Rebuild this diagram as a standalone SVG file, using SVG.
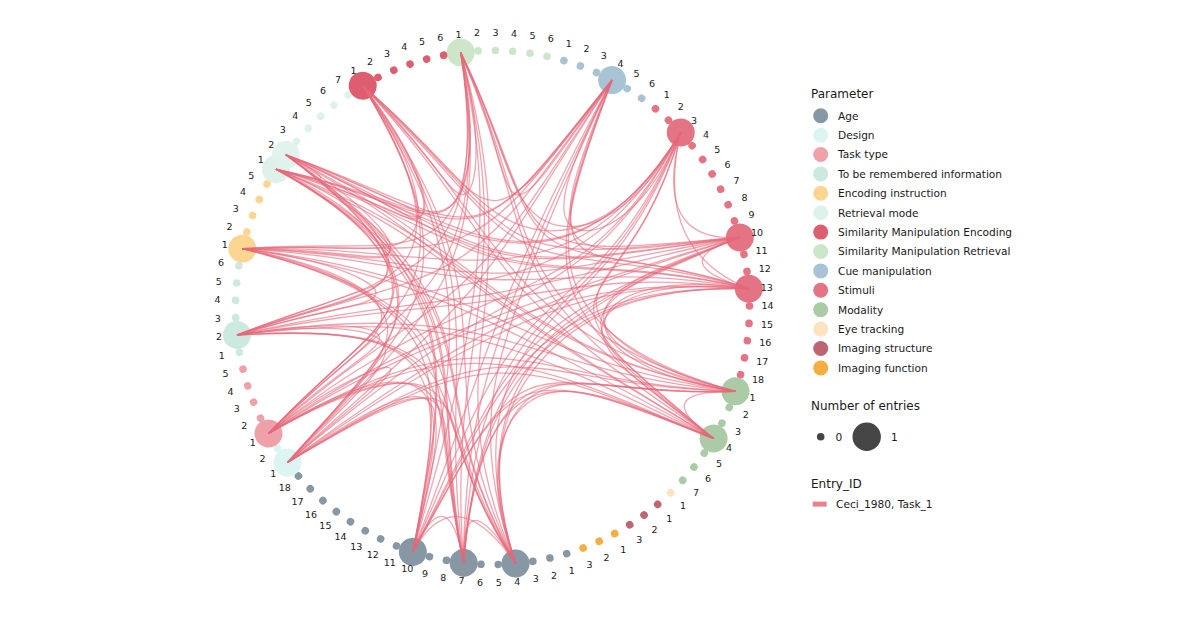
<svg xmlns="http://www.w3.org/2000/svg" width="1200" height="619" viewBox="0 0 1200 619">
<style>
.n text{font-family:"DejaVu Sans",Verdana,sans-serif;font-size:9.5px;fill:#1a1a1a;text-anchor:middle}
.lg text{font-family:"DejaVu Sans",Verdana,sans-serif;font-size:10.6px;fill:#1a1a1a}
.lg text.ttl{font-size:12px}
#connectors path{fill:none;stroke:#e6697b;stroke-opacity:.6;stroke-width:1.3}
.age{fill:#8797a3}.des{fill:#dcf4f2}.tt{fill:#efa1aa}.tbr{fill:#cce9df}.enc{fill:#fcd592}.ret{fill:#dff2ea}
.sme{fill:#dc5e6f}.smr{fill:#cde6ca}.cue{fill:#a8c3d3}.sti{fill:#e47383}.mod{fill:#abcaa6}.eye{fill:#fde3c0}
.ims{fill:#bd6570}.imf{fill:#f6ad43}.sz{fill:#454545}
</style>
<rect width="1200" height="619" fill="#ffffff"/>
<g id="nodes" class="n">
<g id="node-smr-1" transform="rotate(-7.1 492.5 307.5)"><circle class="smr" cx="492.5" cy="50.5" r="14"/><text x="492.5" y="35.9" transform="rotate(7.1 492.5 32.5)">1</text></g>
<g id="node-smr-2" transform="rotate(-3.23 492.5 307.5)"><circle class="smr" cx="492.5" cy="50.5" r="3.8"/><text x="492.5" y="35.9" transform="rotate(3.23 492.5 32.5)">2</text></g>
<g id="node-smr-3" transform="rotate(0.64 492.5 307.5)"><circle class="smr" cx="492.5" cy="50.5" r="3.8"/><text x="492.5" y="35.9" transform="rotate(-0.64 492.5 32.5)">3</text></g>
<g id="node-smr-4" transform="rotate(4.51 492.5 307.5)"><circle class="smr" cx="492.5" cy="50.5" r="3.8"/><text x="492.5" y="35.9" transform="rotate(-4.51 492.5 32.5)">4</text></g>
<g id="node-smr-5" transform="rotate(8.38 492.5 307.5)"><circle class="smr" cx="492.5" cy="50.5" r="3.8"/><text x="492.5" y="35.9" transform="rotate(-8.38 492.5 32.5)">5</text></g>
<g id="node-smr-6" transform="rotate(12.25 492.5 307.5)"><circle class="smr" cx="492.5" cy="50.5" r="3.8"/><text x="492.5" y="35.9" transform="rotate(-12.25 492.5 32.5)">6</text></g>
<g id="node-cue-1" transform="rotate(16.13 492.5 307.5)"><circle class="cue" cx="492.5" cy="50.5" r="3.8"/><text x="492.5" y="35.9" transform="rotate(-16.13 492.5 32.5)">1</text></g>
<g id="node-cue-2" transform="rotate(20 492.5 307.5)"><circle class="cue" cx="492.5" cy="50.5" r="3.8"/><text x="492.5" y="35.9" transform="rotate(-20 492.5 32.5)">2</text></g>
<g id="node-cue-3" transform="rotate(23.87 492.5 307.5)"><circle class="cue" cx="492.5" cy="50.5" r="3.8"/><text x="492.5" y="35.9" transform="rotate(-23.87 492.5 32.5)">3</text></g>
<g id="node-cue-4" transform="rotate(27.74 492.5 307.5)"><circle class="cue" cx="492.5" cy="50.5" r="14"/><text x="492.5" y="35.9" transform="rotate(-27.74 492.5 32.5)">4</text></g>
<g id="node-cue-5" transform="rotate(31.61 492.5 307.5)"><circle class="cue" cx="492.5" cy="50.5" r="3.8"/><text x="492.5" y="35.9" transform="rotate(-31.61 492.5 32.5)">5</text></g>
<g id="node-cue-6" transform="rotate(35.48 492.5 307.5)"><circle class="cue" cx="492.5" cy="50.5" r="3.8"/><text x="492.5" y="35.9" transform="rotate(-35.48 492.5 32.5)">6</text></g>
<g id="node-sti-1" transform="rotate(39.35 492.5 307.5)"><circle class="sti" cx="492.5" cy="50.5" r="3.8"/><text x="492.5" y="35.9" transform="rotate(-39.35 492.5 32.5)">1</text></g>
<g id="node-sti-2" transform="rotate(43.22 492.5 307.5)"><circle class="sti" cx="492.5" cy="50.5" r="3.8"/><text x="492.5" y="35.9" transform="rotate(-43.22 492.5 32.5)">2</text></g>
<g id="node-sti-3" transform="rotate(47.09 492.5 307.5)"><circle class="sti" cx="492.5" cy="50.5" r="14"/><text x="492.5" y="35.9" transform="rotate(-47.09 492.5 32.5)">3</text></g>
<g id="node-sti-4" transform="rotate(50.97 492.5 307.5)"><circle class="sti" cx="492.5" cy="50.5" r="3.8"/><text x="492.5" y="35.9" transform="rotate(-50.97 492.5 32.5)">4</text></g>
<g id="node-sti-5" transform="rotate(54.84 492.5 307.5)"><circle class="sti" cx="492.5" cy="50.5" r="3.8"/><text x="492.5" y="35.9" transform="rotate(-54.84 492.5 32.5)">5</text></g>
<g id="node-sti-6" transform="rotate(58.71 492.5 307.5)"><circle class="sti" cx="492.5" cy="50.5" r="3.8"/><text x="492.5" y="35.9" transform="rotate(-58.71 492.5 32.5)">6</text></g>
<g id="node-sti-7" transform="rotate(62.58 492.5 307.5)"><circle class="sti" cx="492.5" cy="50.5" r="3.8"/><text x="492.5" y="35.9" transform="rotate(-62.58 492.5 32.5)">7</text></g>
<g id="node-sti-8" transform="rotate(66.45 492.5 307.5)"><circle class="sti" cx="492.5" cy="50.5" r="3.8"/><text x="492.5" y="35.9" transform="rotate(-66.45 492.5 32.5)">8</text></g>
<g id="node-sti-9" transform="rotate(70.32 492.5 307.5)"><circle class="sti" cx="492.5" cy="50.5" r="3.8"/><text x="492.5" y="35.9" transform="rotate(-70.32 492.5 32.5)">9</text></g>
<g id="node-sti-10" transform="rotate(74.19 492.5 307.5)"><circle class="sti" cx="492.5" cy="50.5" r="14"/><text x="492.5" y="35.9" transform="rotate(-74.19 492.5 32.5)">10</text></g>
<g id="node-sti-11" transform="rotate(78.06 492.5 307.5)"><circle class="sti" cx="492.5" cy="50.5" r="3.8"/><text x="492.5" y="35.9" transform="rotate(-78.06 492.5 32.5)">11</text></g>
<g id="node-sti-12" transform="rotate(81.93 492.5 307.5)"><circle class="sti" cx="492.5" cy="50.5" r="3.8"/><text x="492.5" y="35.9" transform="rotate(-81.93 492.5 32.5)">12</text></g>
<g id="node-sti-13" transform="rotate(85.8 492.5 307.5)"><circle class="sti" cx="492.5" cy="50.5" r="14"/><text x="492.5" y="35.9" transform="rotate(-85.8 492.5 32.5)">13</text></g>
<g id="node-sti-14" transform="rotate(89.67 492.5 307.5)"><circle class="sti" cx="492.5" cy="50.5" r="3.8"/><text x="492.5" y="35.9" transform="rotate(-89.67 492.5 32.5)">14</text></g>
<g id="node-sti-15" transform="rotate(93.55 492.5 307.5)"><circle class="sti" cx="492.5" cy="50.5" r="3.8"/><text x="492.5" y="35.9" transform="rotate(-93.55 492.5 32.5)">15</text></g>
<g id="node-sti-16" transform="rotate(97.42 492.5 307.5)"><circle class="sti" cx="492.5" cy="50.5" r="3.8"/><text x="492.5" y="35.9" transform="rotate(-97.42 492.5 32.5)">16</text></g>
<g id="node-sti-17" transform="rotate(101.29 492.5 307.5)"><circle class="sti" cx="492.5" cy="50.5" r="3.8"/><text x="492.5" y="35.9" transform="rotate(-101.29 492.5 32.5)">17</text></g>
<g id="node-sti-18" transform="rotate(105.16 492.5 307.5)"><circle class="sti" cx="492.5" cy="50.5" r="3.8"/><text x="492.5" y="35.9" transform="rotate(-105.16 492.5 32.5)">18</text></g>
<g id="node-mod-1" transform="rotate(109.03 492.5 307.5)"><circle class="mod" cx="492.5" cy="50.5" r="14"/><text x="492.5" y="35.9" transform="rotate(-109.03 492.5 32.5)">1</text></g>
<g id="node-mod-2" transform="rotate(112.9 492.5 307.5)"><circle class="mod" cx="492.5" cy="50.5" r="3.8"/><text x="492.5" y="35.9" transform="rotate(-112.9 492.5 32.5)">2</text></g>
<g id="node-mod-3" transform="rotate(116.77 492.5 307.5)"><circle class="mod" cx="492.5" cy="50.5" r="3.8"/><text x="492.5" y="35.9" transform="rotate(-116.77 492.5 32.5)">3</text></g>
<g id="node-mod-4" transform="rotate(120.64 492.5 307.5)"><circle class="mod" cx="492.5" cy="50.5" r="14"/><text x="492.5" y="35.9" transform="rotate(-120.64 492.5 32.5)">4</text></g>
<g id="node-mod-5" transform="rotate(124.51 492.5 307.5)"><circle class="mod" cx="492.5" cy="50.5" r="3.8"/><text x="492.5" y="35.9" transform="rotate(-124.51 492.5 32.5)">5</text></g>
<g id="node-mod-6" transform="rotate(128.38 492.5 307.5)"><circle class="mod" cx="492.5" cy="50.5" r="3.8"/><text x="492.5" y="35.9" transform="rotate(-128.38 492.5 32.5)">6</text></g>
<g id="node-mod-7" transform="rotate(132.26 492.5 307.5)"><circle class="mod" cx="492.5" cy="50.5" r="3.8"/><text x="492.5" y="35.9" transform="rotate(-132.26 492.5 32.5)">7</text></g>
<g id="node-eye-1" transform="rotate(136.13 492.5 307.5)"><circle class="eye" cx="492.5" cy="50.5" r="3.8"/><text x="492.5" y="35.9" transform="rotate(-136.13 492.5 32.5)">1</text></g>
<g id="node-ims-1" transform="rotate(140 492.5 307.5)"><circle class="ims" cx="492.5" cy="50.5" r="3.8"/><text x="492.5" y="35.9" transform="rotate(-140 492.5 32.5)">1</text></g>
<g id="node-ims-2" transform="rotate(143.87 492.5 307.5)"><circle class="ims" cx="492.5" cy="50.5" r="3.8"/><text x="492.5" y="35.9" transform="rotate(-143.87 492.5 32.5)">2</text></g>
<g id="node-ims-3" transform="rotate(147.74 492.5 307.5)"><circle class="ims" cx="492.5" cy="50.5" r="3.8"/><text x="492.5" y="35.9" transform="rotate(-147.74 492.5 32.5)">3</text></g>
<g id="node-imf-1" transform="rotate(151.61 492.5 307.5)"><circle class="imf" cx="492.5" cy="50.5" r="3.8"/><text x="492.5" y="35.9" transform="rotate(-151.61 492.5 32.5)">1</text></g>
<g id="node-imf-2" transform="rotate(155.48 492.5 307.5)"><circle class="imf" cx="492.5" cy="50.5" r="3.8"/><text x="492.5" y="35.9" transform="rotate(-155.48 492.5 32.5)">2</text></g>
<g id="node-imf-3" transform="rotate(159.35 492.5 307.5)"><circle class="imf" cx="492.5" cy="50.5" r="3.8"/><text x="492.5" y="35.9" transform="rotate(-159.35 492.5 32.5)">3</text></g>
<g id="node-age-1" transform="rotate(163.22 492.5 307.5)"><circle class="age" cx="492.5" cy="50.5" r="3.8"/><text x="492.5" y="35.9" transform="rotate(-163.22 492.5 32.5)">1</text></g>
<g id="node-age-2" transform="rotate(167.09 492.5 307.5)"><circle class="age" cx="492.5" cy="50.5" r="3.8"/><text x="492.5" y="35.9" transform="rotate(-167.09 492.5 32.5)">2</text></g>
<g id="node-age-3" transform="rotate(170.97 492.5 307.5)"><circle class="age" cx="492.5" cy="50.5" r="3.8"/><text x="492.5" y="35.9" transform="rotate(-170.97 492.5 32.5)">3</text></g>
<g id="node-age-4" transform="rotate(174.84 492.5 307.5)"><circle class="age" cx="492.5" cy="50.5" r="14"/><text x="492.5" y="35.9" transform="rotate(-174.84 492.5 32.5)">4</text></g>
<g id="node-age-5" transform="rotate(178.71 492.5 307.5)"><circle class="age" cx="492.5" cy="50.5" r="3.8"/><text x="492.5" y="35.9" transform="rotate(-178.71 492.5 32.5)">5</text></g>
<g id="node-age-6" transform="rotate(182.58 492.5 307.5)"><circle class="age" cx="492.5" cy="50.5" r="3.8"/><text x="492.5" y="35.9" transform="rotate(-182.58 492.5 32.5)">6</text></g>
<g id="node-age-7" transform="rotate(186.45 492.5 307.5)"><circle class="age" cx="492.5" cy="50.5" r="14"/><text x="492.5" y="35.9" transform="rotate(-186.45 492.5 32.5)">7</text></g>
<g id="node-age-8" transform="rotate(190.32 492.5 307.5)"><circle class="age" cx="492.5" cy="50.5" r="3.8"/><text x="492.5" y="35.9" transform="rotate(-190.32 492.5 32.5)">8</text></g>
<g id="node-age-9" transform="rotate(194.19 492.5 307.5)"><circle class="age" cx="492.5" cy="50.5" r="3.8"/><text x="492.5" y="35.9" transform="rotate(-194.19 492.5 32.5)">9</text></g>
<g id="node-age-10" transform="rotate(198.06 492.5 307.5)"><circle class="age" cx="492.5" cy="50.5" r="14"/><text x="492.5" y="35.9" transform="rotate(-198.06 492.5 32.5)">10</text></g>
<g id="node-age-11" transform="rotate(201.93 492.5 307.5)"><circle class="age" cx="492.5" cy="50.5" r="3.8"/><text x="492.5" y="35.9" transform="rotate(-201.93 492.5 32.5)">11</text></g>
<g id="node-age-12" transform="rotate(205.8 492.5 307.5)"><circle class="age" cx="492.5" cy="50.5" r="3.8"/><text x="492.5" y="35.9" transform="rotate(-205.8 492.5 32.5)">12</text></g>
<g id="node-age-13" transform="rotate(209.67 492.5 307.5)"><circle class="age" cx="492.5" cy="50.5" r="3.8"/><text x="492.5" y="35.9" transform="rotate(-209.67 492.5 32.5)">13</text></g>
<g id="node-age-14" transform="rotate(213.55 492.5 307.5)"><circle class="age" cx="492.5" cy="50.5" r="3.8"/><text x="492.5" y="35.9" transform="rotate(-213.55 492.5 32.5)">14</text></g>
<g id="node-age-15" transform="rotate(217.42 492.5 307.5)"><circle class="age" cx="492.5" cy="50.5" r="3.8"/><text x="492.5" y="35.9" transform="rotate(-217.42 492.5 32.5)">15</text></g>
<g id="node-age-16" transform="rotate(221.29 492.5 307.5)"><circle class="age" cx="492.5" cy="50.5" r="3.8"/><text x="492.5" y="35.9" transform="rotate(-221.29 492.5 32.5)">16</text></g>
<g id="node-age-17" transform="rotate(225.16 492.5 307.5)"><circle class="age" cx="492.5" cy="50.5" r="3.8"/><text x="492.5" y="35.9" transform="rotate(-225.16 492.5 32.5)">17</text></g>
<g id="node-age-18" transform="rotate(229.03 492.5 307.5)"><circle class="age" cx="492.5" cy="50.5" r="3.8"/><text x="492.5" y="35.9" transform="rotate(-229.03 492.5 32.5)">18</text></g>
<g id="node-des-1" transform="rotate(232.9 492.5 307.5)"><circle class="des" cx="492.5" cy="50.5" r="14"/><text x="492.5" y="35.9" transform="rotate(-232.9 492.5 32.5)">1</text></g>
<g id="node-des-2" transform="rotate(236.77 492.5 307.5)"><circle class="des" cx="492.5" cy="50.5" r="3.8"/><text x="492.5" y="35.9" transform="rotate(-236.77 492.5 32.5)">2</text></g>
<g id="node-tt-1" transform="rotate(240.64 492.5 307.5)"><circle class="tt" cx="492.5" cy="50.5" r="14"/><text x="492.5" y="35.9" transform="rotate(-240.64 492.5 32.5)">1</text></g>
<g id="node-tt-2" transform="rotate(244.51 492.5 307.5)"><circle class="tt" cx="492.5" cy="50.5" r="3.8"/><text x="492.5" y="35.9" transform="rotate(-244.51 492.5 32.5)">2</text></g>
<g id="node-tt-3" transform="rotate(248.38 492.5 307.5)"><circle class="tt" cx="492.5" cy="50.5" r="3.8"/><text x="492.5" y="35.9" transform="rotate(-248.38 492.5 32.5)">3</text></g>
<g id="node-tt-4" transform="rotate(252.26 492.5 307.5)"><circle class="tt" cx="492.5" cy="50.5" r="3.8"/><text x="492.5" y="35.9" transform="rotate(-252.26 492.5 32.5)">4</text></g>
<g id="node-tt-5" transform="rotate(256.13 492.5 307.5)"><circle class="tt" cx="492.5" cy="50.5" r="3.8"/><text x="492.5" y="35.9" transform="rotate(-256.13 492.5 32.5)">5</text></g>
<g id="node-tbr-1" transform="rotate(260 492.5 307.5)"><circle class="tbr" cx="492.5" cy="50.5" r="3.8"/><text x="492.5" y="35.9" transform="rotate(-260 492.5 32.5)">1</text></g>
<g id="node-tbr-2" transform="rotate(263.87 492.5 307.5)"><circle class="tbr" cx="492.5" cy="50.5" r="14"/><text x="492.5" y="35.9" transform="rotate(-263.87 492.5 32.5)">2</text></g>
<g id="node-tbr-3" transform="rotate(267.74 492.5 307.5)"><circle class="tbr" cx="492.5" cy="50.5" r="3.8"/><text x="492.5" y="35.9" transform="rotate(-267.74 492.5 32.5)">3</text></g>
<g id="node-tbr-4" transform="rotate(271.61 492.5 307.5)"><circle class="tbr" cx="492.5" cy="50.5" r="3.8"/><text x="492.5" y="35.9" transform="rotate(-271.61 492.5 32.5)">4</text></g>
<g id="node-tbr-5" transform="rotate(275.48 492.5 307.5)"><circle class="tbr" cx="492.5" cy="50.5" r="3.8"/><text x="492.5" y="35.9" transform="rotate(-275.48 492.5 32.5)">5</text></g>
<g id="node-tbr-6" transform="rotate(279.35 492.5 307.5)"><circle class="tbr" cx="492.5" cy="50.5" r="3.8"/><text x="492.5" y="35.9" transform="rotate(-279.35 492.5 32.5)">6</text></g>
<g id="node-enc-1" transform="rotate(283.22 492.5 307.5)"><circle class="enc" cx="492.5" cy="50.5" r="14"/><text x="492.5" y="35.9" transform="rotate(-283.22 492.5 32.5)">1</text></g>
<g id="node-enc-2" transform="rotate(287.09 492.5 307.5)"><circle class="enc" cx="492.5" cy="50.5" r="3.8"/><text x="492.5" y="35.9" transform="rotate(-287.09 492.5 32.5)">2</text></g>
<g id="node-enc-3" transform="rotate(290.97 492.5 307.5)"><circle class="enc" cx="492.5" cy="50.5" r="3.8"/><text x="492.5" y="35.9" transform="rotate(-290.97 492.5 32.5)">3</text></g>
<g id="node-enc-4" transform="rotate(294.84 492.5 307.5)"><circle class="enc" cx="492.5" cy="50.5" r="3.8"/><text x="492.5" y="35.9" transform="rotate(-294.84 492.5 32.5)">4</text></g>
<g id="node-enc-5" transform="rotate(298.71 492.5 307.5)"><circle class="enc" cx="492.5" cy="50.5" r="3.8"/><text x="492.5" y="35.9" transform="rotate(-298.71 492.5 32.5)">5</text></g>
<g id="node-ret-1" transform="rotate(302.58 492.5 307.5)"><circle class="ret" cx="492.5" cy="50.5" r="14"/><text x="492.5" y="35.9" transform="rotate(-302.58 492.5 32.5)">1</text></g>
<g id="node-ret-2" transform="rotate(306.45 492.5 307.5)"><circle class="ret" cx="492.5" cy="50.5" r="14" fill-opacity="0.92"/><text x="492.5" y="35.9" transform="rotate(-306.45 492.5 32.5)">2</text></g>
<g id="node-ret-3" transform="rotate(310.32 492.5 307.5)"><circle class="ret" cx="492.5" cy="50.5" r="3.8"/><text x="492.5" y="35.9" transform="rotate(-310.32 492.5 32.5)">3</text></g>
<g id="node-ret-4" transform="rotate(314.19 492.5 307.5)"><circle class="ret" cx="492.5" cy="50.5" r="3.8"/><text x="492.5" y="35.9" transform="rotate(-314.19 492.5 32.5)">4</text></g>
<g id="node-ret-5" transform="rotate(318.06 492.5 307.5)"><circle class="ret" cx="492.5" cy="50.5" r="3.8"/><text x="492.5" y="35.9" transform="rotate(-318.06 492.5 32.5)">5</text></g>
<g id="node-ret-6" transform="rotate(321.93 492.5 307.5)"><circle class="ret" cx="492.5" cy="50.5" r="3.8"/><text x="492.5" y="35.9" transform="rotate(-321.93 492.5 32.5)">6</text></g>
<g id="node-ret-7" transform="rotate(325.8 492.5 307.5)"><circle class="ret" cx="492.5" cy="50.5" r="3.8"/><text x="492.5" y="35.9" transform="rotate(-325.8 492.5 32.5)">7</text></g>
<g id="node-sme-1" transform="rotate(329.67 492.5 307.5)"><circle class="sme" cx="492.5" cy="50.5" r="14"/><text x="492.5" y="35.9" transform="rotate(-329.67 492.5 32.5)">1</text></g>
<g id="node-sme-2" transform="rotate(333.55 492.5 307.5)"><circle class="sme" cx="492.5" cy="50.5" r="3.8"/><text x="492.5" y="35.9" transform="rotate(-333.55 492.5 32.5)">2</text></g>
<g id="node-sme-3" transform="rotate(337.42 492.5 307.5)"><circle class="sme" cx="492.5" cy="50.5" r="3.8"/><text x="492.5" y="35.9" transform="rotate(-337.42 492.5 32.5)">3</text></g>
<g id="node-sme-4" transform="rotate(341.29 492.5 307.5)"><circle class="sme" cx="492.5" cy="50.5" r="3.8"/><text x="492.5" y="35.9" transform="rotate(-341.29 492.5 32.5)">4</text></g>
<g id="node-sme-5" transform="rotate(345.16 492.5 307.5)"><circle class="sme" cx="492.5" cy="50.5" r="3.8"/><text x="492.5" y="35.9" transform="rotate(-345.16 492.5 32.5)">5</text></g>
<g id="node-sme-6" transform="rotate(349.03 492.5 307.5)"><circle class="sme" cx="492.5" cy="50.5" r="3.8"/><text x="492.5" y="35.9" transform="rotate(-349.03 492.5 32.5)">6</text></g>
</g>
<g id="connectors">
<path d="M460.7 52.5C499 135.4 501.2 191.3 516.7 194.8C532.2 198.4 560.9 149.7 612.1 80"/>
<path d="M460.7 52.5C503.3 138.7 507.6 196.2 539.5 217.8C571.4 239.5 630.8 225.2 680.7 132.5"/>
<path d="M460.7 52.5C507 145.2 513.2 206 546.9 230.9C580.6 255.9 641.9 244.9 739.8 237.5"/>
<path d="M460.7 52.5C507.5 148.4 514 210.8 548 237.3C582.1 263.9 643.6 254.5 748.8 288.7"/>
<path d="M460.7 52.5C506.7 154.8 512.8 220.5 543.8 272.6C574.9 324.8 630.9 363.5 735.5 391.3"/>
<path d="M460.7 52.5C505.3 157.8 510.7 224.9 541.1 278.5C571.5 332.2 626.8 372.4 713.6 438.5"/>
<path d="M460.7 52.5C492.9 165.6 492.2 236.6 485 306.5C477.8 376.6 464.2 445.5 515.6 563.5"/>
<path d="M460.7 52.5C489.7 165.6 487.3 236.5 478.5 306.5C469.7 376.5 454.5 445.4 463.6 562.9"/>
<path d="M460.7 52.5C486.5 164.9 482.5 235.5 472.1 305.1C461.7 374.7 444.9 443.3 412.8 551.8"/>
<path d="M460.7 52.5C478.7 159.3 470.8 227.1 441.6 283.3C412.4 339.6 361.9 384.2 287.5 462.5"/>
<path d="M460.7 52.5C477.5 157.5 469 224.4 436.1 274C403.3 323.6 346 355.8 268.5 433.5"/>
<path d="M460.7 52.5C475.5 151.3 466 215.2 430.3 251.7C394.5 288.2 332.3 297.4 237 335"/>
<path d="M460.7 52.5C475.9 145.9 466.5 207.1 432.7 230.8C398.9 254.7 340.6 241.1 242.3 248.7"/>
<path d="M460.7 52.5C478 140.9 469.7 199.6 442.9 211.5C416.1 223.6 370.8 188.8 275.9 169.1"/>
<path d="M460.7 52.5C478.6 140.1 470.6 198.3 444.2 209.8C417.7 221.3 372.7 186.1 285.8 154.8"/>
<path d="M460.7 52.5C483.4 135.7 477.8 191.8 463.8 194.5C449.8 197.4 427.3 146.8 362.7 85.7"/>
<path d="M612.1 80C574.7 154.7 552.8 205.9 569.2 224C585.6 242.1 640.3 226.9 680.7 132.5"/>
<path d="M612.1 80C578.4 161.2 558.4 215.7 576.6 237.1C594.8 258.5 651.4 246.6 739.8 237.5"/>
<path d="M612.1 80C578.9 164.4 559.2 220.5 577.7 243.5C596.3 266.5 653.1 256.2 748.8 288.7"/>
<path d="M612.1 80C578.1 170.8 558 230.2 573.5 278.8C589.1 327.4 640.4 365.2 735.5 391.3"/>
<path d="M612.1 80C576.7 173.8 555.9 234.6 570.8 284.7C585.7 334.8 636.3 374.1 713.6 438.5"/>
<path d="M612.1 80C564.3 181.6 537.4 246.3 514.7 312.7C492 379.2 473.7 447.2 515.6 563.5"/>
<path d="M612.1 80C561.1 181.6 532.5 246.2 508.2 312.7C483.9 379.1 464 447.1 463.6 562.9"/>
<path d="M612.1 80C557.9 180.9 527.7 245.2 501.8 311.3C475.9 377.3 454.4 445 412.8 551.8"/>
<path d="M612.1 80C550.1 175.3 516 236.8 471.3 289.5C426.6 342.2 371.4 385.9 287.5 462.5"/>
<path d="M612.1 80C548.9 173.5 514.2 234.1 465.8 280.2C417.5 326.2 355.5 357.5 268.5 433.5"/>
<path d="M612.1 80C546.9 167.3 511.2 224.9 460 257.9C408.7 290.8 341.8 299.1 237 335"/>
<path d="M612.1 80C547.3 161.9 511.7 216.8 462.4 237C413.1 257.3 350.1 242.8 242.3 248.7"/>
<path d="M612.1 80C549.4 156.9 514.9 209.3 472.6 217.7C430.3 226.2 380.3 190.5 275.9 169.1"/>
<path d="M612.1 80C550 156.1 515.8 208 473.9 216C431.9 223.9 382.2 187.8 285.8 154.8"/>
<path d="M612.1 80C554.8 151.7 523 201.5 493.5 200.7C464 200 436.8 148.5 362.7 85.7"/>
<path d="M680.7 132.5C648 246.3 597.2 271.3 596.3 301.8C595.5 332.3 644.7 368.5 735.5 391.3"/>
<path d="M680.7 132.5C646.6 249.3 595.1 275.7 593.6 307.7C592.1 339.7 640.6 377.4 713.6 438.5"/>
<path d="M680.7 132.5C634.2 257.1 576.6 287.4 537.5 335.7C498.4 384.1 478 450.5 515.6 563.5"/>
<path d="M680.7 132.5C631 257.1 571.7 287.3 531 335.7C490.3 384 468.3 450.4 463.6 562.9"/>
<path d="M680.7 132.5C627.8 256.4 566.9 286.3 524.6 334.3C482.3 382.2 458.7 448.3 412.8 551.8"/>
<path d="M680.7 132.5C620 250.8 555.2 277.9 494.1 312.5C433 347.1 375.7 389.2 287.5 462.5"/>
<path d="M680.7 132.5C618.8 249 553.4 275.2 488.6 303.2C423.9 331.1 359.8 360.8 268.5 433.5"/>
<path d="M680.7 132.5C616.8 242.8 550.4 266 482.8 280.9C415.1 295.7 346.1 302.4 237 335"/>
<path d="M680.7 132.5C617.2 237.4 550.9 257.9 485.2 260C419.5 262.2 354.4 246.1 242.3 248.7"/>
<path d="M680.7 132.5C619.3 232.4 554.1 250.4 495.4 240.7C436.7 231.1 384.6 193.8 275.9 169.1"/>
<path d="M680.7 132.5C619.9 231.6 555 249.1 496.7 239C438.3 228.8 386.5 191.1 285.8 154.8"/>
<path d="M680.7 132.5C624.7 227.2 562.2 242.6 516.3 223.7C470.4 204.9 441.1 151.8 362.7 85.7"/>
<path d="M739.8 237.5C659.1 266 606.4 287.7 603.7 314.9C601.1 342.1 648.4 375 735.5 391.3"/>
<path d="M739.8 237.5C657.7 269 604.3 292.1 601 320.8C597.7 349.5 644.3 383.9 713.6 438.5"/>
<path d="M739.8 237.5C645.3 276.8 585.8 303.8 544.9 348.8C504 393.9 481.7 457 515.6 563.5"/>
<path d="M739.8 237.5C642.1 276.8 580.9 303.7 538.4 348.8C495.9 393.8 472 456.9 463.6 562.9"/>
<path d="M739.8 237.5C638.9 276.1 576.1 302.7 532 347.4C487.9 392 462.4 454.8 412.8 551.8"/>
<path d="M739.8 237.5C631.1 270.5 564.4 294.3 501.5 325.6C438.6 356.9 379.4 395.7 287.5 462.5"/>
<path d="M739.8 237.5C629.9 268.7 562.6 291.6 496 316.3C429.5 340.9 363.5 367.3 268.5 433.5"/>
<path d="M739.8 237.5C627.9 262.5 559.6 282.4 490.2 294C420.7 305.5 349.8 308.9 237 335"/>
<path d="M739.8 237.5C628.3 257.1 560.1 274.3 492.6 273.1C425.1 272 358.1 252.6 242.3 248.7"/>
<path d="M739.8 237.5C630.4 252.1 563.3 266.8 502.8 253.8C442.3 240.9 388.3 200.3 275.9 169.1"/>
<path d="M739.8 237.5C631 251.3 564.2 265.5 504.1 252.1C443.9 238.6 390.2 197.6 285.8 154.8"/>
<path d="M739.8 237.5C635.8 246.9 571.4 259 523.7 236.8C476 214.7 444.8 158.3 362.7 85.7"/>
<path d="M748.8 288.7C660.8 275.6 607.9 295.7 604.8 321.3C601.9 346.9 648.9 378.2 735.5 391.3"/>
<path d="M748.8 288.7C659.4 278.6 605.8 300.1 602.1 327.2C598.5 354.3 644.8 387.1 713.6 438.5"/>
<path d="M748.8 288.7C647 286.4 587.3 311.8 546 355.2C504.8 398.7 482.2 460.2 515.6 563.5"/>
<path d="M748.8 288.7C643.8 286.4 582.4 311.7 539.5 355.2C496.7 398.6 472.5 460.1 463.6 562.9"/>
<path d="M748.8 288.7C640.6 285.7 577.6 310.7 533.1 353.8C488.7 396.8 462.9 458 412.8 551.8"/>
<path d="M748.8 288.7C632.8 280.1 565.9 302.3 502.6 332C439.4 361.7 379.9 398.9 287.5 462.5"/>
<path d="M748.8 288.7C631.6 278.3 564.1 299.6 497.1 322.7C430.3 345.7 364 370.5 268.5 433.5"/>
<path d="M748.8 288.7C629.6 272.1 561.1 290.4 491.3 300.4C421.5 310.3 350.3 312.1 237 335"/>
<path d="M748.8 288.7C630 266.7 561.6 282.3 493.7 279.5C425.9 276.8 358.6 255.8 242.3 248.7"/>
<path d="M748.8 288.7C632.1 261.7 564.8 274.8 503.9 260.2C443.1 245.7 388.8 203.5 275.9 169.1"/>
<path d="M748.8 288.7C632.7 260.9 565.7 273.5 505.2 258.5C444.7 243.4 390.7 200.8 285.8 154.8"/>
<path d="M748.8 288.7C637.5 256.5 572.9 267 524.8 243.2C476.8 219.5 445.3 161.5 362.7 85.7"/>
<path d="M735.5 391.3C634.3 395.4 580.1 372.7 541.8 390.5C503.6 408.4 481.4 466.6 515.6 563.5"/>
<path d="M735.5 391.3C631.1 395.4 575.2 372.6 535.3 390.5C495.5 408.3 471.7 466.5 463.6 562.9"/>
<path d="M735.5 391.3C627.9 394.7 570.4 371.6 528.9 389.1C487.5 406.5 462.1 464.4 412.8 551.8"/>
<path d="M735.5 391.3C620.1 389.1 558.7 363.2 498.4 367.3C438.2 371.4 379.1 405.3 287.5 462.5"/>
<path d="M735.5 391.3C618.9 387.3 556.9 360.5 492.9 358C429.1 355.4 363.2 376.9 268.5 433.5"/>
<path d="M735.5 391.3C616.9 381.1 553.9 351.3 487.1 335.7C420.3 320 349.5 318.5 237 335"/>
<path d="M735.5 391.3C617.3 375.7 554.4 343.2 489.5 314.8C424.7 286.5 357.8 262.2 242.3 248.7"/>
<path d="M735.5 391.3C619.4 370.7 557.6 335.7 499.7 295.5C441.9 255.4 388 209.9 275.9 169.1"/>
<path d="M735.5 391.3C620 369.9 558.5 334.4 501 293.8C443.5 253.1 389.9 207.2 285.8 154.8"/>
<path d="M735.5 391.3C624.8 365.5 565.7 327.9 520.6 278.5C475.6 229.2 444.5 167.9 362.7 85.7"/>
<path d="M713.6 438.5C630.2 404.3 576.7 380.1 539.1 396.4C501.5 412.8 480 469.6 515.6 563.5"/>
<path d="M713.6 438.5C627 404.3 571.8 380 532.6 396.4C493.4 412.7 470.3 469.5 463.6 562.9"/>
<path d="M713.6 438.5C623.8 403.6 567 379 526.2 395C485.4 410.9 460.7 467.4 412.8 551.8"/>
<path d="M713.6 438.5C616 398 555.3 370.6 495.7 373.2C436.1 375.8 377.7 408.3 287.5 462.5"/>
<path d="M713.6 438.5C614.8 396.2 553.5 367.9 490.2 363.9C427 359.8 361.8 379.9 268.5 433.5"/>
<path d="M713.6 438.5C612.8 390 550.5 358.7 484.4 341.6C418.2 324.4 348.1 321.5 237 335"/>
<path d="M713.6 438.5C613.2 384.6 551 350.6 486.8 320.7C422.6 290.9 356.4 265.2 242.3 248.7"/>
<path d="M713.6 438.5C615.3 379.6 554.2 343.1 497 301.4C439.8 259.8 386.6 212.9 275.9 169.1"/>
<path d="M713.6 438.5C615.9 378.8 555.1 341.8 498.3 299.7C441.4 257.5 388.5 210.2 285.8 154.8"/>
<path d="M713.6 438.5C620.7 374.4 562.3 335.3 517.9 284.4C473.5 233.6 443.1 170.9 362.7 85.7"/>
<path d="M515.6 563.5C453.4 471.1 461.6 415 439.6 401.2C417.6 387.5 365.3 416.1 287.5 462.5"/>
<path d="M515.6 563.5C452.2 469.3 459.8 412.3 434.1 391.9C408.5 371.5 349.4 387.7 268.5 433.5"/>
<path d="M515.6 563.5C450.2 463.1 456.8 403.1 428.3 369.6C399.7 336.1 335.7 329.3 237 335"/>
<path d="M515.6 563.5C450.6 457.7 457.3 395 430.7 348.7C404.1 302.6 344 273 242.3 248.7"/>
<path d="M515.6 563.5C452.7 452.7 460.5 387.5 440.9 329.4C421.3 271.5 374.2 220.7 275.9 169.1"/>
<path d="M515.6 563.5C453.3 451.9 461.4 386.2 442.2 327.7C422.9 269.2 376.1 218 285.8 154.8"/>
<path d="M515.6 563.5C458.1 447.5 468.6 379.7 461.8 312.4C455 245.3 430.7 178.7 362.7 85.7"/>
<path d="M463.6 562.9C443.7 471 453.5 414.9 433.1 401.2C412.7 387.4 362.1 416.1 287.5 462.5"/>
<path d="M463.6 562.9C442.5 469.2 451.7 412.2 427.6 391.9C403.6 371.4 346.2 387.7 268.5 433.5"/>
<path d="M463.6 562.9C440.5 463 448.7 403 421.8 369.6C394.8 336 332.5 329.3 237 335"/>
<path d="M463.6 562.9C440.9 457.6 449.2 394.9 424.2 348.7C399.2 302.5 340.8 273 242.3 248.7"/>
<path d="M463.6 562.9C443 452.6 452.4 387.4 434.4 329.4C416.4 271.4 371 220.7 275.9 169.1"/>
<path d="M463.6 562.9C443.6 451.8 453.3 386.1 435.7 327.7C418 269.1 372.9 218 285.8 154.8"/>
<path d="M463.6 562.9C448.4 447.4 460.5 379.6 455.3 312.4C450.1 245.2 427.5 178.7 362.7 85.7"/>
<path d="M412.8 551.8C434.1 468.9 445.5 413.1 426.7 399.8C407.9 386.4 358.9 415.4 287.5 462.5"/>
<path d="M412.8 551.8C432.9 467.1 443.7 410.4 421.2 390.5C398.8 370.4 343 387 268.5 433.5"/>
<path d="M412.8 551.8C430.9 460.9 440.7 401.2 415.4 368.2C390 335 329.3 328.6 237 335"/>
<path d="M412.8 551.8C431.3 455.5 441.2 393.1 417.8 347.3C394.4 301.5 337.6 272.3 242.3 248.7"/>
<path d="M412.8 551.8C433.4 450.5 444.4 385.6 428 328C411.6 270.4 367.8 220 275.9 169.1"/>
<path d="M412.8 551.8C434 449.7 445.3 384.3 429.3 326.3C413.2 268.1 369.7 217.3 285.8 154.8"/>
<path d="M412.8 551.8C438.8 445.3 452.5 377.8 448.9 311C445.3 244.2 424.3 178 362.7 85.7"/>
<path d="M287.5 462.5C349.9 408 394.4 375.3 390.7 368.7C387.1 362 335.2 381.4 268.5 433.5"/>
<path d="M287.5 462.5C347.9 401.8 391.4 366.1 384.9 346.4C378.3 326.6 321.5 323 237 335"/>
<path d="M287.5 462.5C348.3 396.4 391.9 358 387.3 325.5C382.7 293.1 329.8 266.7 242.3 248.7"/>
<path d="M287.5 462.5C350.4 391.4 395.1 350.5 397.5 306.2C399.9 262 360 214.4 275.9 169.1"/>
<path d="M287.5 462.5C351 390.6 396 349.2 398.8 304.5C401.5 259.7 361.9 211.7 285.8 154.8"/>
<path d="M287.5 462.5C355.8 386.2 403.2 342.7 418.4 289.2C433.6 235.8 416.5 172.4 362.7 85.7"/>
<path d="M268.5 433.5C332 373.4 382.3 350.1 379.4 337.1C376.5 323.9 320.3 321.2 237 335"/>
<path d="M268.5 433.5C332.4 368 382.8 342 381.8 316.2C380.9 290.4 328.6 264.9 242.3 248.7"/>
<path d="M268.5 433.5C334.5 363 386 334.5 392 296.9C398.1 259.3 358.8 212.6 275.9 169.1"/>
<path d="M268.5 433.5C335.1 362.2 386.9 333.2 393.3 295.2C399.7 257 360.7 209.9 285.8 154.8"/>
<path d="M268.5 433.5C339.9 357.8 394.1 326.7 412.9 279.9C431.8 233.1 415.3 170.6 362.7 85.7"/>
<path d="M237 335C318.7 309.6 374 306.6 376 293.9C377.9 281.2 326.6 258.7 242.3 248.7"/>
<path d="M237 335C320.8 304.6 377.2 299.1 386.2 274.6C395.1 250.1 356.8 206.4 275.9 169.1"/>
<path d="M237 335C321.4 303.8 378.1 297.8 387.5 272.9C396.7 247.8 358.7 203.7 285.8 154.8"/>
<path d="M237 335C326.2 299.4 385.3 291.3 407.1 257.6C428.8 223.9 413.3 164.4 362.7 85.7"/>
<path d="M242.3 248.7C329.1 248.3 381.6 265.6 388.6 253.7C395.6 242 357.2 201 275.9 169.1"/>
<path d="M242.3 248.7C329.7 247.5 382.5 264.3 389.9 252C397.2 239.7 359.1 198.3 285.8 154.8"/>
<path d="M242.3 248.7C334.5 243.1 389.7 257.8 409.5 236.7C429.3 215.8 413.7 159 362.7 85.7"/>
<path d="M275.9 169.1C364.7 190.8 406.9 226.7 419.7 217.4C432.5 208.3 415.8 154 362.7 85.7"/>
<path d="M285.8 154.8C366.6 188.1 408.5 224.4 421 215.7C433.4 207 416.4 153.2 362.7 85.7"/>
<path d="M680.7 132.5Q651.9 243.3 739.8 237.5"/>
<path d="M680.7 132.5Q653.1 249.7 748.8 288.7"/>
<path d="M739.8 237.5Q660.5 262.8 748.8 288.7"/>
<path d="M735.5 391.3Q645.4 390.5 713.6 438.5"/>
<path d="M515.6 563.5Q461.2 477.4 463.6 562.9"/>
<path d="M515.6 563.5Q454.8 476 412.8 551.8"/>
<path d="M463.6 562.9Q448.3 475.9 412.8 551.8"/>
<path d="M275.9 169.1Q360.5 194.3 285.8 154.8"/>
</g>
<g id="legend-parameter" class="lg">
<text class="ttl" x="811" y="97.7">Parameter</text>
<circle class="age" cx="820.7" cy="115.7" r="7.5"/><text x="838" y="119.5">Age</text>
<circle class="des" cx="820.7" cy="135.1" r="7.5"/><text x="838" y="138.9">Design</text>
<circle class="tt" cx="820.7" cy="154.5" r="7.5"/><text x="838" y="158.3">Task type</text>
<circle class="tbr" cx="820.7" cy="173.9" r="7.5"/><text x="838" y="177.7">To be remembered information</text>
<circle class="enc" cx="820.7" cy="193.3" r="7.5"/><text x="838" y="197.1">Encoding instruction</text>
<circle class="ret" cx="820.7" cy="212.7" r="7.5"/><text x="838" y="216.5">Retrieval mode</text>
<circle class="sme" cx="820.7" cy="232.1" r="7.5"/><text x="838" y="235.9">Similarity Manipulation Encoding</text>
<circle class="smr" cx="820.7" cy="251.5" r="7.5"/><text x="838" y="255.3">Similarity Manipulation Retrieval</text>
<circle class="cue" cx="820.7" cy="270.9" r="7.5"/><text x="838" y="274.7">Cue manipulation</text>
<circle class="sti" cx="820.7" cy="290.3" r="7.5"/><text x="838" y="294.1">Stimuli</text>
<circle class="mod" cx="820.7" cy="309.7" r="7.5"/><text x="838" y="313.5">Modality</text>
<circle class="eye" cx="820.7" cy="329.1" r="7.5"/><text x="838" y="332.9">Eye tracking</text>
<circle class="ims" cx="820.7" cy="348.5" r="7.5"/><text x="838" y="352.3">Imaging structure</text>
<circle class="imf" cx="820.7" cy="367.9" r="7.5"/><text x="838" y="371.7">Imaging function</text>
</g>
<g id="legend-size" class="lg">
<text class="ttl" x="811" y="409.5">Number of entries</text>
<circle class="sz" cx="820.7" cy="436.7" r="3.8"/><text x="835.5" y="440.5">0</text>
<circle class="sz" cx="866.7" cy="436.7" r="14.2"/><text x="891" y="440.5">1</text>
</g>
<g id="legend-entry" class="lg">
<text class="ttl" x="811" y="487.8">Entry_ID</text>
<rect x="812.7" y="501.6" width="14" height="5" fill="#e8818d"/>
<text x="836" y="508">Ceci_1980, Task_1</text>
</g>
</svg>
